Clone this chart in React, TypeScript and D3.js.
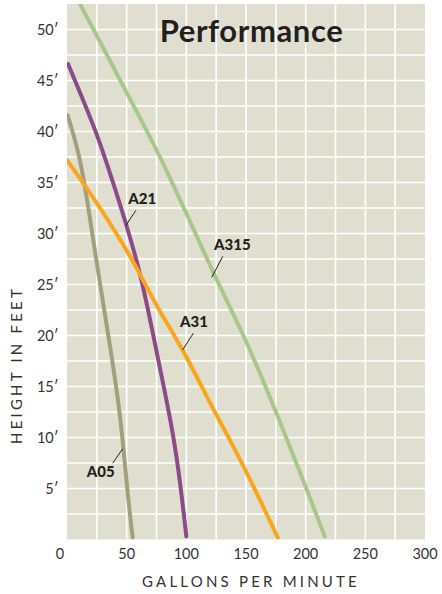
import React from 'react'
import * as d3 from 'd3'

// pump curves, [gallons per minute, height in feet]
const a05 = [[0.5, 41.6], [5, 39.9], [11, 37.3], [17, 33.3], [25, 27], [34, 20.5], [43, 13.7], [47, 9.4], [51, 4.2], [55, 0.2]]
const a21 = [[1, 46.6], [12, 43.5], [25, 39.8], [37, 35.6], [50, 30.8], [62, 25.9], [72, 20.2], [80, 15.6], [89, 10.4], [95, 5.5], [100, 0.3]]
const a31 = [[0, 37.2], [23.5, 33.3], [41.6, 30], [58.4, 26.7], [75.2, 22.8], [97.5, 18.6], [118.4, 13.7], [129, 11.4], [150, 6.8], [176.5, 0.2]]
const a315 = [[10, 52.7], [25, 49.4], [50, 43.8], [75, 38.3], [100, 32], [125, 25.5], [150, 19.6], [175, 12.6], [200, 5.2], [216, 0.3]]

const seriesNames = ['A05', 'A21', 'A31', 'A315']
const seriesData = [a05, a21, a31, a315]
const seriesColors = ['#a39f7d', '#8b4b89', '#f9a51d', '#a9c78b']

// where each callout touches its curve
const labelAnchors = [[46.7, 8.9], [49.4, 30.8], [97, 18.6], [121.3, 25.7]]

const xTicks = [0, 50, 100, 150, 200, 250, 300]
const yTicks = [5, 10, 15, 20, 25, 30, 35, 40, 45, 50]

const width = 442
const height = 594
const plot = { left: 67, right: 425, top: 4, bottom: 539.5 }

export default function App() {
  const x = d3.scaleLinear().domain([0, 300]).range([plot.left, plot.right])
  const y = d3.scaleLinear().domain([0, 52.5]).range([plot.bottom, plot.top])

  const line = d3.line<number[]>()
    .x(d => x(d[0]))
    .y(d => y(d[1]))
    .curve(d3.curveBasis)

  const vGrid = d3.range(25, 300, 25)
  const hGrid = d3.range(2.5, 52.5, 2.5)

  // leader offsets (px): end of leader, and text position relative to curve point
  const leader = [
    { dx: -10, dy: 14.4, tx: -36, ty: 28.4 },
    { dx: 10, dy: -15, tx: 2.3, ty: -21 },
    { dx: 10.6, dy: -16.6, tx: -2.7, ty: -22.6 },
    { dx: 11, dy: -21, tx: 2.3, ty: -27 },
  ]

  return (
    <svg width={width} height={height} style={{ position: 'absolute', left: 0, top: 0, background: '#fff' }}
      fontFamily="Lato, sans-serif">
      <defs>
        <clipPath id="plotClip">
          <rect x={plot.left} y={plot.top} width={plot.right - plot.left} height={plot.bottom - plot.top} />
        </clipPath>
      </defs>

      <rect x={plot.left} y={plot.top} width={plot.right - plot.left} height={plot.bottom - plot.top} fill="#e0dfcf" />

      {vGrid.map(v => (
        <line key={'v' + v} x1={x(v)} x2={x(v)} y1={plot.top} y2={plot.bottom} stroke="#fff" strokeWidth={1.6} />
      ))}
      {hGrid.map(v => (
        <line key={'h' + v} x1={plot.left} x2={plot.right} y1={y(v)} y2={y(v)} stroke="#fff" strokeWidth={1.6} />
      ))}

      <text x={251.5} y={41.7} textAnchor="middle" fontSize={31} letterSpacing={0.6} fontWeight={700} fill="#231f20">Performance</text>

      <g clipPath="url(#plotClip)">
        {seriesData.map((d, i) => (
          <path key={seriesNames[i]} d={line(d) || ''} fill="none" stroke={seriesColors[i]}
            strokeWidth={4} strokeLinecap="round" strokeLinejoin="round" />
        ))}
      </g>

      {labelAnchors.map((a, i) => {
        const px = x(a[0])
        const py = y(a[1])
        const o = leader[i]
        return (
          <g key={'lab' + i}>
            <line x1={px} y1={py} x2={px + o.dx} y2={py + o.dy} stroke="#231f20" strokeWidth={1} />
            <text x={px + o.tx} y={py + o.ty} fontSize={15} fontWeight={900} fill="#231f20">{seriesNames[i]}</text>
          </g>
        )
      })}

      {yTicks.map(t => (
        <text key={'yt' + t} x={58.5} y={y(t)} dy="0.35em" textAnchor="end" fontSize={14.5} fill="#333">
          {t}′
        </text>
      ))}
      {xTicks.map(t => (
        <text key={'xt' + t} x={t === 0 ? x(t) - 7 : x(t)} y={559} textAnchor="middle" fontSize={14.5} fill="#333">
          {t}
        </text>
      ))}

      <text x={251} y={587} textAnchor="middle" fontSize={15} letterSpacing={3.2} fill="#333">GALLONS PER MINUTE</text>
      <text transform="translate(22, 365) rotate(-90)" textAnchor="middle" fontSize={15} letterSpacing={3.2} fill="#333">
        HEIGHT IN FEET
      </text>
    </svg>
  )
}
